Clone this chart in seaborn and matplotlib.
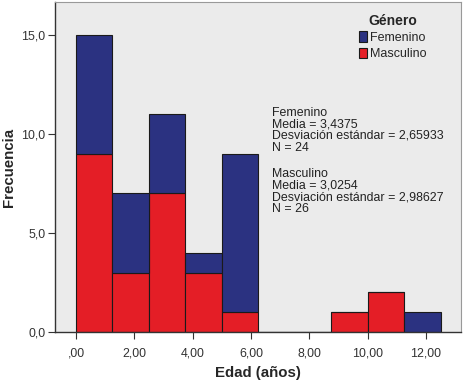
import matplotlib
matplotlib.use('Agg')
import matplotlib.pyplot as plt
import seaborn as sns
import pandas as pd
import numpy as np

# bins of width 1.25 years
bin_edges = [0, 1.25, 2.5, 3.75, 5, 6.25, 7.5, 8.75, 10, 11.25, 12.5]
femenino_counts = [6, 4, 4, 1, 8, 0, 0, 0, 0, 1]
masculino_counts = [9, 3, 7, 3, 1, 0, 0, 1, 2, 0]
generos = ['Femenino', 'Masculino']
colores = {'Femenino': '#2b3281', 'Masculino': '#e41e26'}
x_ticks = [0, 2, 4, 6, 8, 10, 12]
y_ticks = [0, 5, 10, 15]

texto_fem = "Femenino\nMedia = 3,4375\nDesviación estándar = 2,65933\nN = 24"
texto_masc = "Masculino\nMedia = 3,0254\nDesviación estándar = 2,98627\nN = 26"

centros = [(a + b) / 2 for a, b in zip(bin_edges[:-1], bin_edges[1:])]
df = pd.DataFrame({
    'edad': centros * 2,
    'n': femenino_counts + masculino_counts,
    'genero': ['Femenino'] * len(centros) + ['Masculino'] * len(centros),
})

sns.set_style('white')
plt.rcParams['font.family'] = ['Liberation Sans', 'DejaVu Sans']

fig = plt.figure(figsize=(4.64, 3.91), dpi=100)
ax = fig.add_axes([0.1185, 0.151, 0.875, 0.844])
ax.set_facecolor('#ebebeb')

sns.histplot(data=df, x='edad', weights='n', hue='genero', hue_order=generos,
             multiple='stack', bins=bin_edges, palette=colores, alpha=1,
             edgecolor='#1a1a1a', linewidth=0.8, ax=ax)

ax.set_xlim(-0.72, 13.2)
ax.set_ylim(0, 16.67)
ax.set_xticks(x_ticks)
ax.set_xticklabels([f"{v:.2f}".replace('.', ',').lstrip('0') if v == 0 else f"{v:.2f}".replace('.', ',') for v in x_ticks])
ax.set_yticks(y_ticks)
ax.set_yticklabels([f"{v:.1f}".replace('.', ',') for v in y_ticks])
ax.tick_params(axis='both', direction='out', length=5, width=0.8, color='#333333',
               labelsize=8.9, labelcolor='#333333', pad=2, bottom=True, left=True)
ax.tick_params(axis='x', pad=6)

ax.set_xlabel('Edad (años)', fontsize=10.8, fontweight='bold', labelpad=5)
ax.set_ylabel('Frecuencia', fontsize=10.8, fontweight='bold', labelpad=4)

for s in ['left', 'bottom']:
    ax.spines[s].set_color('#333333')
    ax.spines[s].set_linewidth(1)
for s in ['top', 'right']:
    ax.spines[s].set_color('#999999')
    ax.spines[s].set_linewidth(0.8)

ax.text(0.534, 0.682, texto_fem, transform=ax.transAxes, fontsize=8.9,
        va='top', ha='left', linespacing=0.95, color='#222222')
ax.text(0.534, 0.497, texto_masc, transform=ax.transAxes, fontsize=8.9,
        va='top', ha='left', linespacing=0.95, color='#222222')

sns.move_legend(ax, 'upper left', bbox_to_anchor=(0.705, 1.018), frameon=False,
                title='Género', title_fontproperties={'weight': 'bold', 'size': 10},
                fontsize=9, handlelength=0.7, handleheight=0.9, handletextpad=0.2,
                labelspacing=0.3, borderpad=1.4, borderaxespad=0.0)

fig.savefig('out.png', dpi=100)
